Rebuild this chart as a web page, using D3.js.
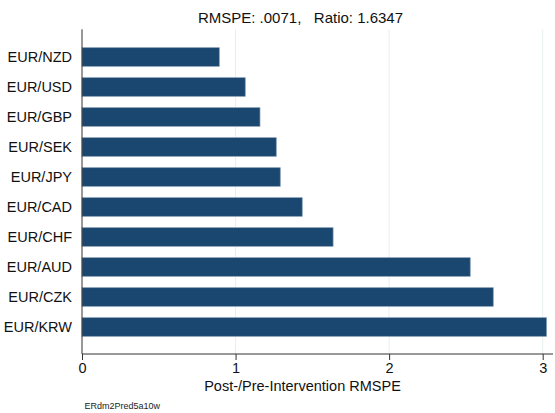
<!DOCTYPE html>
<html><head><meta charset="utf-8">
<script src="https://cdn.jsdelivr.net/npm/d3@7"></script>
<style>body{margin:0;background:#fff}text{font-family:"Liberation Sans",Arial,sans-serif}</style>
</head><body>
<svg id="c" width="555" height="413"></svg>
<script>
const categories = ["EUR/NZD","EUR/USD","EUR/GBP","EUR/SEK","EUR/JPY","EUR/CAD","EUR/CHF","EUR/AUD","EUR/CZK","EUR/KRW"];
const values = [0.894, 1.063, 1.159, 1.265, 1.291, 1.434, 1.635, 2.528, 2.678, 3.025];
const xTicks = [0, 1, 2, 3];
const titleText = "RMSPE: .0071,   Ratio: 1.6347";
const xTitle = "Post-/Pre-Intervention RMSPE";
const note = "ERdm2Pred5a10w";

(function () {
const svg = d3.select("#c");
const pL = 82, pR = 542.7, pT = 29.3, pB = 354;
const x = d3.scaleLinear().domain([0, 3]).range([pL, pR]);
const y = d3.scaleBand().domain(categories).range([42, 342]).paddingInner(0.38).paddingOuter(0.19);

// grid
svg.append("g").selectAll("line").data(xTicks.filter(d => d > 0)).join("line")
  .attr("x1", d => x(d)).attr("x2", d => x(d)).attr("y1", pT).attr("y2", pB)
  .attr("stroke", "#e6eff1").attr("stroke-width", 1);

// bars
svg.append("g").selectAll("rect").data(categories).join("rect")
  .attr("x", pL).attr("y", d => y(d))
  .attr("width", (d, i) => x(values[i]) - pL).attr("height", y.bandwidth())
  .attr("fill", "#1a476f").attr("stroke", "#7f98b0").attr("stroke-width", 0.7);

// y axis
const ya = svg.append("g").attr("transform", `translate(${pL},0)`)
  .call(d3.axisLeft(y).tickSize(0).tickPadding(10));
ya.select(".domain").remove();
ya.append("line").attr("x1", 0).attr("x2", 0).attr("y1", pT).attr("y2", pB).attr("stroke", "#333").attr("stroke-width", 1);
ya.selectAll("text").attr("font-size", "14.5px").attr("fill", "#111").attr("dy", "0.37em")
  .attr("font-family", '"Liberation Sans",Arial,sans-serif');

// x axis
const xa = svg.append("g").attr("transform", `translate(0,${pB})`)
  .call(d3.axisBottom(x).tickValues(xTicks).tickFormat(d3.format("d")).tickSize(6).tickPadding(3));
xa.select(".domain").remove();
xa.append("line").attr("x1", pL).attr("x2", 553).attr("y1", 0).attr("y2", 0).attr("stroke", "#333");
xa.selectAll(".tick line").attr("stroke", "#333");
xa.selectAll("text").attr("font-size", "14.5px").attr("fill", "#111")
  .attr("font-family", '"Liberation Sans",Arial,sans-serif');

svg.append("text").attr("x", 302.5).attr("y", 391).attr("text-anchor", "middle")
  .attr("font-size", "14.5px").attr("fill", "#111").text(xTitle);

svg.append("text").attr("x", 300.5).attr("y", 22.5).attr("text-anchor", "middle")
  .attr("font-size", "15px").attr("fill", "#111").style("white-space", "pre").text(titleText);

svg.append("text").attr("x", 84.5).attr("y", 409).attr("font-size", "9px").attr("fill", "#222").text(note);
})();
</script>
</body></html>
